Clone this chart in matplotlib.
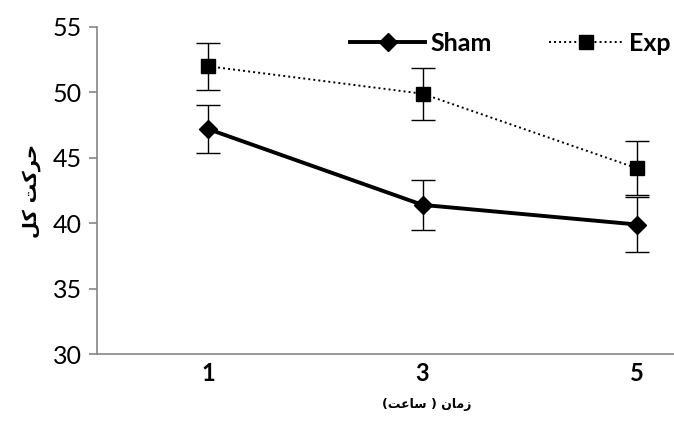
import numpy as np
import matplotlib.pyplot as plt
from matplotlib.lines import Line2D

# Data
hours = ["1", "3", "5"]
sham = [47.2, 41.4, 39.9]
sham_err = [1.8, 1.9, 2.1]
exp = [52.0, 49.9, 44.2]
exp_err = [1.8, 2.0, 2.05]

# Persian labels written in visual order with presentation forms
# (matplotlib does no Arabic shaping / RTL layout)
ylabel_txt = "\ufede\ufb90 \ufe96\ufb90\ufeae\ufea3"          # حرکت کل
xlabel_txt = "(\ufe96\ufecb\ufe8e\ufeb3 ) \ufee5\ufe8e\ufee3\ufeaf"  # زمان (ساعت)

x = np.arange(len(hours))
axis_grey = "#868686"

fig = plt.figure(figsize=(6.74, 4.24), dpi=100)
ax = fig.add_axes([97 / 674, 70 / 424, 577 / 674, 327 / 424])

sham_style = dict(color="black", lw=2.8, marker="D", ms=9)
exp_style = dict(color="black", lw=1.4, ls=(0, (1, 1.6)), marker="s", ms=10.5)

ax.errorbar(x, sham, yerr=sham_err, ecolor="black", elinewidth=1, capsize=8.5,
            capthick=1, **sham_style)
ax.errorbar(x, exp, yerr=exp_err, ecolor="black", elinewidth=1, capsize=8.5,
            capthick=1, **exp_style)

ax.set_ylim(30, 55)
ax.set_yticks([30, 35, 40, 45, 50, 55])
ax.set_xlim(-0.5175, 2.1725)
ax.set_xticks(x)
ax.set_xticklabels(hours, fontweight="bold", fontsize=17, family="Lato")
for lab in ax.get_yticklabels():
    lab.set_family("Lato")
    lab.set_fontsize(18)

for s in ["top", "right"]:
    ax.spines[s].set_visible(False)
for s in ["left", "bottom"]:
    ax.spines[s].set_color(axis_grey)
    ax.spines[s].set_linewidth(1.2)
ax.tick_params(axis="y", color=axis_grey, length=6, width=1.2, pad=5)
ax.tick_params(axis="x", length=0, pad=6)

ax.set_ylabel(ylabel_txt, family=["DejaVu Sans"], fontweight="bold", fontsize=14, labelpad=8)
ax.set_xlabel(xlabel_txt, family=["DejaVu Sans"], fontweight="bold", fontsize=9, labelpad=2)
ax.xaxis.set_label_coords(0.572, -0.135)

handles = [Line2D([], [], **sham_style), Line2D([], [], **exp_style)]
ax.legend(handles, ["Sham", "Exp"], loc="upper left", bbox_to_anchor=(0.4385, 0.985),
          ncol=2, frameon=False, borderpad=0, borderaxespad=0,
          handlelength=3.0, columnspacing=2.3, handletextpad=0.2,
          prop={"family": "Lato", "weight": "bold", "size": 18})

fig.savefig("out.png", dpi=100)
